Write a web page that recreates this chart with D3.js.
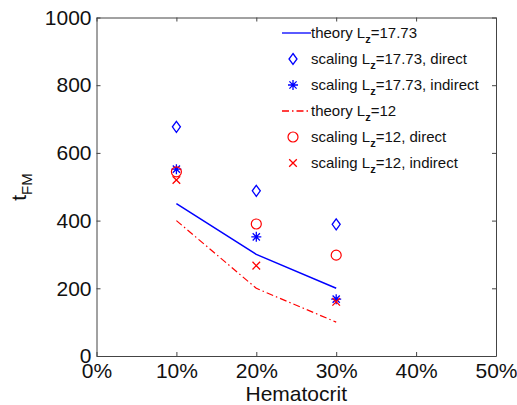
<!DOCTYPE html>
<html>
<head>
<meta charset="utf-8">
<script src="https://cdn.jsdelivr.net/npm/d3@7"></script>
<style>
  body { margin: 0; background: #fff; }
  text { font-family: "Liberation Sans", Arial, sans-serif; }
</style>
</head>
<body>
<div id="chart"></div>
<script>
// Data
const hematocrit = [0.1, 0.2, 0.3]
const theory1773 = [450, 300, 200]
const direct1773 = [677, 488, 389]
const indirect1773 = [552, 352, 168]
const theory12 = [400, 200, 100]
const direct12 = [544, 390, 298]
const indirect12 = [520, 267, 160]
const xTicks = [0, 0.1, 0.2, 0.3, 0.4, 0.5]
const yTicks = [0, 200, 400, 600, 800, 1000]

const dimensions = {
  width: 517,
  height: 405,
  margin: { top: 17.5, right: 21, bottom: 49, left: 96.5 }
}
dimensions.containerWidth = dimensions.width - dimensions.margin.left - dimensions.margin.right
dimensions.containerHeight = dimensions.height - dimensions.margin.top - dimensions.margin.bottom

const svg = d3.select('#chart')
  .append('svg')
  .attr('width', dimensions.width)
  .attr('height', dimensions.height)

const container = svg.append('g')
  .attr('transform', `translate(${dimensions.margin.left}, ${dimensions.margin.top})`)

// Scales
const xScale = d3.scaleLinear().domain([0, 0.5]).range([0, dimensions.containerWidth])
const yScale = d3.scaleLinear().domain([0, 1000]).range([dimensions.containerHeight, 0])

const blue = '#0000ff'
const red = '#ff0000'

// Axes (MATLAB style box with inward ticks)
const tickLen = 4
const xAxis = d3.axisBottom(xScale).tickValues(xTicks).tickSizeInner(-tickLen).tickSizeOuter(0)
  .tickPadding(7).tickFormat(d => Math.round(d * 100) + '%')
const yAxis = d3.axisLeft(yScale).tickValues(yTicks).tickSizeInner(-tickLen).tickSizeOuter(0)
  .tickPadding(5).tickFormat(d => String(d))
const xTop = d3.axisTop(xScale).tickValues(xTicks).tickSizeInner(-tickLen).tickSizeOuter(0).tickFormat('')
const yRight = d3.axisRight(yScale).tickValues(yTicks).tickSizeInner(-tickLen).tickSizeOuter(0).tickFormat('')

const styleAxis = g => {
  g.select('.domain').attr('stroke', '#444').attr('stroke-width', 1)
  g.selectAll('.tick line').attr('stroke', '#444')
  g.selectAll('.tick text').attr('fill', '#111').style('font-size', '21px')
    .style('font-family', '"Liberation Sans", Arial, sans-serif')
}

container.append('g')
  .attr('transform', `translate(0, ${dimensions.containerHeight})`)
  .call(xAxis).call(styleAxis)
container.append('g').call(yAxis).call(styleAxis)
container.append('g').call(xTop).call(styleAxis)
container.append('g')
  .attr('transform', `translate(${dimensions.containerWidth}, 0)`)
  .call(yRight).call(styleAxis)

// Axis labels
svg.append('text')
  .attr('x', dimensions.margin.left + dimensions.containerWidth / 2)
  .attr('y', 401)
  .attr('text-anchor', 'middle')
  .attr('fill', '#111')
  .style('font-size', '21px')
  .text('Hematocrit')

const yLabel = svg.append('text')
  .attr('transform', `translate(26, 187) rotate(-90)`)
  .attr('text-anchor', 'middle')
  .attr('fill', '#111')
  .style('font-size', '21px')
yLabel.append('tspan').text('t')
yLabel.append('tspan').attr('dy', 6).style('font-size', '15px').text('FM')

// Lines
const line = d3.line()
  .x((d, i) => xScale(hematocrit[i]))
  .y(d => yScale(d))

container.append('path')
  .datum(theory1773)
  .attr('d', line)
  .attr('fill', 'none')
  .attr('stroke', blue)
  .attr('stroke-width', 1.5)

container.append('path')
  .datum(theory12)
  .attr('d', line)
  .attr('fill', 'none')
  .attr('stroke', red)
  .attr('stroke-width', 1.2)
  .attr('stroke-dasharray', '7,3,1.5,3')

// Marker shapes
const markerPath = (type) => {
  if (type === 'diamond') return 'M0,-5.5L4,0L0,5.5L-4,0Z'
  if (type === 'star') return 'M0,-5V5M-5,0H5M-3.6,-3.6L3.6,3.6M-3.6,3.6L3.6,-3.6'
  if (type === 'x') return 'M-3.8,-3.8L3.8,3.8M-3.8,3.8L3.8,-3.8'
  return null
}

const drawMarker = (g, type, color, cx, cy) => {
  if (type === 'circle') {
    g.append('circle')
      .attr('cx', cx).attr('cy', cy).attr('r', 5)
      .attr('fill', 'none').attr('stroke', color).attr('stroke-width', 1.2)
  } else {
    g.append('path')
      .attr('d', markerPath(type))
      .attr('transform', `translate(${cx}, ${cy})`)
      .attr('fill', 'none').attr('stroke', color).attr('stroke-width', 1.3)
  }
}

const series = [
  { values: direct1773, type: 'diamond', color: blue },
  { values: indirect1773, type: 'star', color: blue },
  { values: direct12, type: 'circle', color: red },
  { values: indirect12, type: 'x', color: red }
]

const pts = container.append('g')
series.forEach(s => {
  s.values.forEach((v, i) => drawMarker(pts, s.type, s.color, xScale(hematocrit[i]), yScale(v)))
})

// Legend
const legendItems = [
  { kind: 'line', color: blue, dash: null, label: ['theory L', 'z', '=17.73'] },
  { kind: 'diamond', color: blue, label: ['scaling L', 'z', '=17.73, direct'] },
  { kind: 'star', color: blue, label: ['scaling L', 'z', '=17.73, indirect'] },
  { kind: 'line', color: red, dash: '7,3,1.5,3', label: ['theory L', 'z', '=12'] },
  { kind: 'circle', color: red, label: ['scaling L', 'z', '=12, direct'] },
  { kind: 'x', color: red, label: ['scaling L', 'z', '=12, indirect'] }
]

const legend = svg.append('g')
legendItems.forEach((item, i) => {
  const cy = 33 + i * 26
  if (item.kind === 'line') {
    legend.append('line')
      .attr('x1', 282).attr('x2', 311).attr('y1', cy).attr('y2', cy)
      .attr('stroke', item.color).attr('stroke-width', 1.3)
      .attr('stroke-dasharray', item.dash)
  } else {
    drawMarker(legend, item.kind, item.color, 293, cy)
  }
  const t = legend.append('text')
    .attr('x', 311)
    .attr('y', cy + 5)
    .attr('fill', '#111')
    .style('font-size', '15px')
  t.append('tspan').text(item.label[0])
  t.append('tspan').attr('dy', 5).style('font-size', '11px').style('font-weight', 'bold').text(item.label[1])
  t.append('tspan').attr('dy', -5).text(item.label[2])
})
</script>
</body>
</html>
